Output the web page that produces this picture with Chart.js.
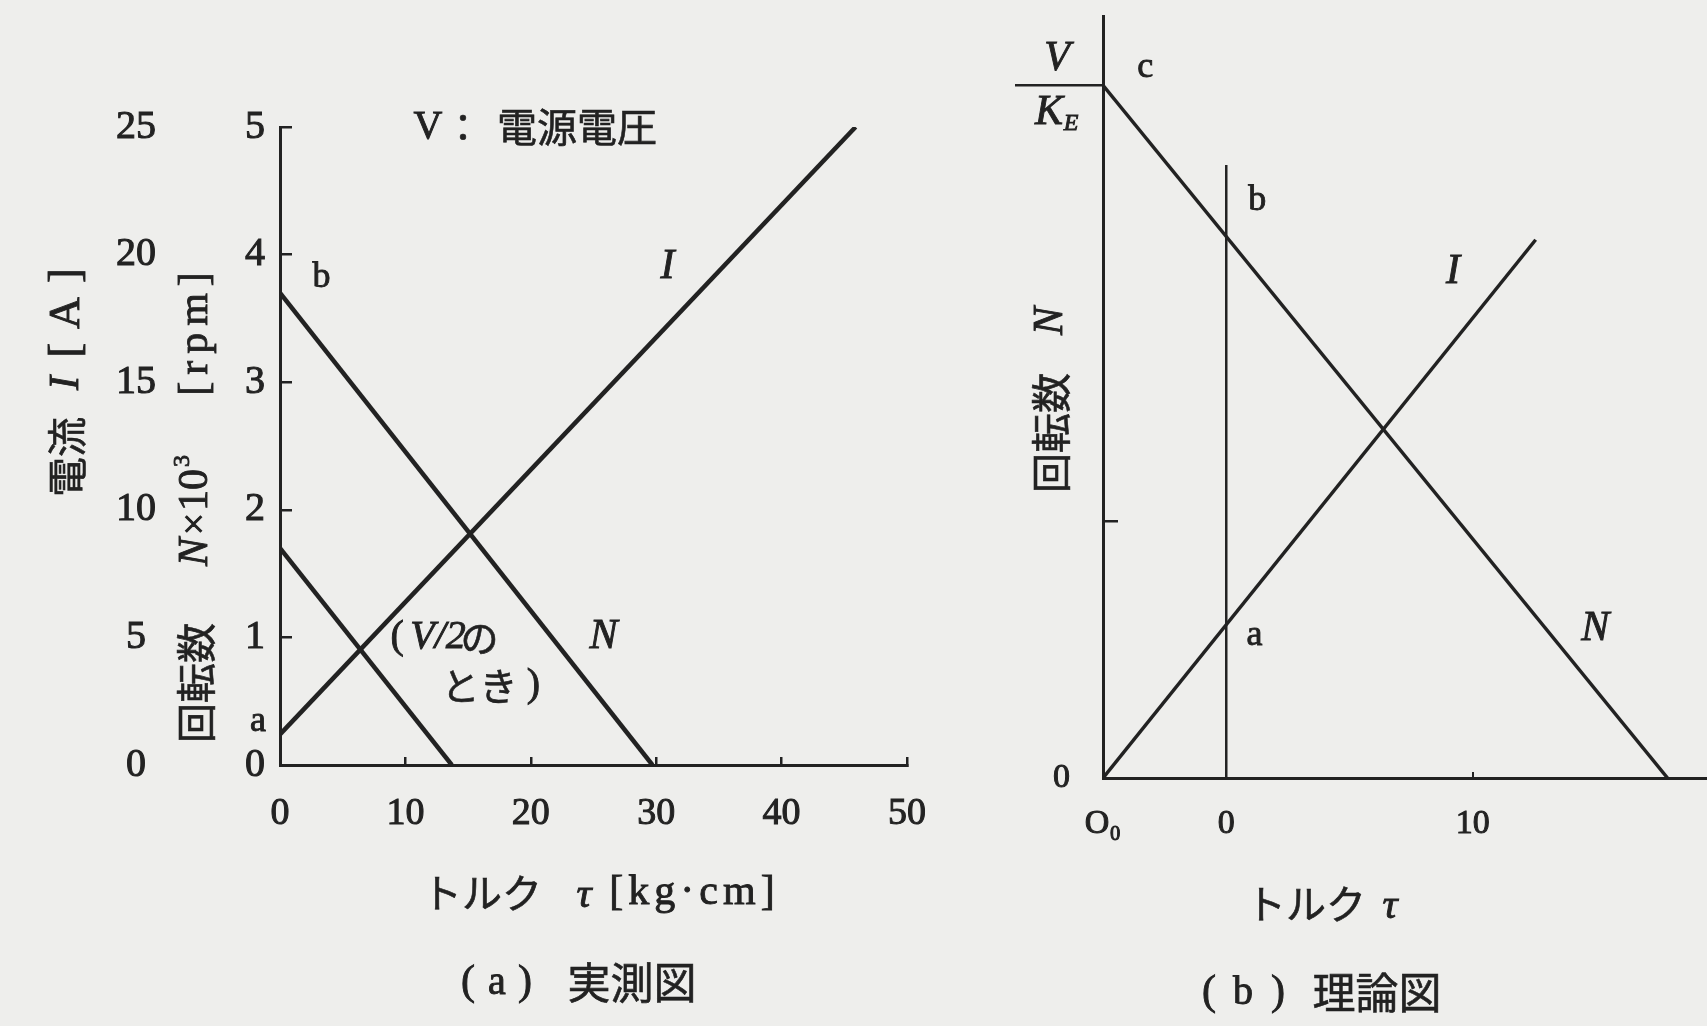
<!DOCTYPE html>
<html lang="ja">
<head>
<meta charset="utf-8">
<title>直流モータの特性</title>
<script src="https://cdn.jsdelivr.net/npm/chart.js@4.4.1/dist/chart.umd.min.js"></script>
<style>
  html, body { margin: 0; padding: 0; background: #eeeeec; overflow: hidden; }
  #wrap { position: relative; width: 1707px; height: 1026px; }
  #chartA { position: absolute; left: 0; top: 0; width: 960px; height: 1026px; }
  #chartB { position: absolute; left: 960px; top: 0; width: 747px; height: 1026px; }
</style>
</head>
<body>
<div id="wrap">
  <canvas id="chartA" width="960" height="1026"></canvas>
  <canvas id="chartB" width="747" height="1026"></canvas>
</div>
<script>
// ---- (a) 実測図 : measured characteristics ----
const torqueTicksA  = [0, 10, 20, 30, 40, 50];      // τ [kg·cm]
const speedTicksA   = [0, 1, 2, 3, 4, 5];            // N ×10³ [rpm]
const currentTicksA = [0, 5, 10, 15, 20, 25];        // I [A]

const speedTorqueA     = [0, 29.7];
const speedA           = [3.7, 0];
const halfSpeedTorqueA = [0, 13.7];
const halfSpeedA       = [1.7, 0];
const currentTorqueA   = [0, 45.9];
const currentA         = [1.2, 25];

// ---- (b) 理論図 : theoretical characteristics ----
const torqueTicksB  = [-5, 0, 10];
const torqueLabelsB = ['O\u2080', '0', '10'];
const speedTicksB   = [0, 3.7, 10];
const speedLabelsB  = ['0', '', ''];

const speedTorqueB    = [-5, 17.9];
const speedB          = [10, 0];
const currentTorqueB  = [-5, 12.55];
const currentB        = [0, 7.77];
const noLoadTorqueB   = [0, 0];
const noLoadB         = [0, 8.85];

const INK = '#222222';
const SERIF = '"Liberation Serif", "DejaVu Serif", serif';
const CJK = '"Noto Sans CJK JP", sans-serif';

const pts = (xs, ys) => xs.map((x, i) => ({ x, y: ys[i] }));
const fixedTicks = (values) => (scale) => { scale.ticks = values.map(v => ({ value: v })); };

// centred text; optional rotation and extra spacing between characters
function put(ctx, text, x, y, font, opts = {}) {
  ctx.save();
  ctx.translate(x, y);
  if (opts.rot) ctx.rotate(opts.rot);
  ctx.font = font;
  ctx.fillStyle = INK;
  ctx.strokeStyle = INK;
  ctx.lineWidth = opts.stroke == null ? 0.9 : opts.stroke;
  ctx.textBaseline = 'middle';
  ctx.textAlign = 'left';
  const gap = opts.gap || 0;
  const chars = Array.from(text);
  const widths = chars.map(c => ctx.measureText(c).width);
  const total = widths.reduce((a, b) => a + b, 0) + gap * (chars.length - 1);
  let cx = -total / 2;
  chars.forEach((c, i) => {
    ctx.fillText(c, cx, 0);
    if (ctx.lineWidth > 0) ctx.strokeText(c, cx, 0);
    cx += widths[i] + gap;
  });
  ctx.restore();
}
const serif = (s, it) => (it ? 'italic ' : '') + s + 'px ' + SERIF;
const cjk = (s) => s + 'px ' + CJK;
const UP = -Math.PI / 2;
// Japanese text, slightly emboldened
const putJ = (ctx, text, x, y, size, opts = {}) => put(ctx, text, x, y, cjk(size), Object.assign({ stroke: 0.6 }, opts));

const lineStyle = (w) => ({ showLine: true, borderColor: INK, borderWidth: w, pointRadius: 0, fill: false, tension: 0 });
const tickFont = (size) => ({ font: { family: SERIF, size }, color: INK, textStrokeColor: INK, textStrokeWidth: 1, autoSkip: false });
const noScalePadding = (s) => { s.paddingTop = 0; s.paddingBottom = 0; s.paddingLeft = 0; s.paddingRight = 0; };

// ---------- chart (a) ----------
const annotateA = {
  id: 'annotateA',
  afterDraw(chart) {
    const { ctx } = chart;
    const x = chart.scales.x, y = chart.scales.yN;
    const at = (tx, ty) => [x.getPixelForValue(tx), y.getPixelForValue(ty)];

    // point and curve labels
    let p = at(3.3, 3.82);  put(ctx, 'b', p[0], p[1], serif(36));
    p = at(-1.75, 0.34);    put(ctx, 'a', p[0], p[1], serif(36));
    p = at(30.9, 3.9);      put(ctx, 'I', p[0], p[1], serif(42, true));
    p = at(25.8, 1.0);      put(ctx, 'N', p[0], p[1], serif(42, true));

    // (V/2のとき)
    p = at(9.35, 1.0);      put(ctx, '(', p[0], p[1], serif(40));
    p = at(12.6, 1.0);      put(ctx, 'V/2', p[0], p[1], serif(40, true));
    p = at(15.9, 1.0);      putJ(ctx, 'の', p[0], p[1], 38);
    p = at(15.9, 0.62);     putJ(ctx, 'とき', p[0], p[1], 38);
    p = at(20.2, 0.62);     put(ctx, ')', p[0], p[1], serif(40));

    // V：電源電圧
    put(ctx, 'V', 428, 127, serif(40));
    putJ(ctx, '：', 463, 127, 38);
    putJ(ctx, '電源電圧', 577, 127, 40);

    // axis titles
    putJ(ctx, '電流', 67, 457, 40, { rot: UP });
    put(ctx, 'I', 67, 383, serif(42, true), { rot: UP });
    put(ctx, '[A]', 67, 313, serif(44), { rot: UP, gap: 14 });

    putJ(ctx, '回転数', 196, 683, 40, { rot: UP });
    put(ctx, 'N', 196, 552, serif(42, true), { rot: UP });
    put(ctx, '\u00d7', 196, 524, serif(40), { rot: UP });
    put(ctx, '10', 196, 490, serif(42), { rot: UP });
    put(ctx, '3', 183, 461, serif(24), { rot: UP });
    put(ctx, '[rpm]', 196, 334, serif(42), { rot: UP, gap: 7 });

    putJ(ctx, 'トルク', 482, 893, 40);
    put(ctx, 'τ', 584, 896, serif(42, true));
    put(ctx, '[kg·cm]', 692, 893, serif(42), { gap: 5 });

    put(ctx, '(', 468, 983, serif(42));
    put(ctx, 'a', 497, 983, serif(40));
    put(ctx, ')', 525, 983, serif(42));
    putJ(ctx, '実測図', 632, 983, 43);
  }
};

new Chart(document.getElementById('chartA'), {
  type: 'scatter',
  data: {
    datasets: [
      Object.assign({ label: 'N', data: pts(speedTorqueA, speedA), yAxisID: 'yN' }, lineStyle(4.5)),
      Object.assign({ label: 'N (V/2)', data: pts(halfSpeedTorqueA, halfSpeedA), yAxisID: 'yN' }, lineStyle(4.5)),
      Object.assign({ label: 'I', data: pts(currentTorqueA, currentA), yAxisID: 'yI' }, lineStyle(4.5))
    ]
  },
  options: {
    responsive: false,
    animation: false,
    devicePixelRatio: 1,
    layout: { padding: { left: 0, top: 127, right: 53, bottom: 161 } },
    plugins: { legend: { display: false }, tooltip: { enabled: false } },
    scales: {
      x: {
        type: 'linear', min: 0, max: 50,
        afterBuildTicks: fixedTicks(torqueTicksA),
        grid: { drawOnChartArea: false, drawTicks: true, tickLength: -8, color: INK, lineWidth: 2.5 },
        border: { display: true, color: INK, width: 3 },
        ticks: Object.assign(tickFont(38), { padding: 34, maxRotation: 0 }),
        afterFit: (s) => { s.height = 100; noScalePadding(s); }
      },
      yN: {
        type: 'linear', position: 'left', weight: 0, min: 0, max: 5,
        afterBuildTicks: fixedTicks(speedTicksA),
        grid: { drawOnChartArea: false, drawTicks: true, tickLength: -12, color: INK, lineWidth: 2.5 },
        border: { display: true, color: INK, width: 3 },
        ticks: Object.assign(tickFont(40), { padding: 27 }),
        afterFit: (s) => { s.width = 110; noScalePadding(s); }
      },
      yI: {
        type: 'linear', position: 'left', weight: 1, min: 0, max: 25,
        afterBuildTicks: fixedTicks(currentTicksA),
        grid: { display: false, drawTicks: false },
        border: { display: false },
        ticks: Object.assign(tickFont(40), { padding: 14, crossAlign: 'center' }),
        afterFit: (s) => { s.width = 170; noScalePadding(s); }
      }
    }
  },
  plugins: [annotateA]
});

// ---------- chart (b) ----------
const annotateB = {
  id: 'annotateB',
  afterDraw(chart) {
    const { ctx } = chart;
    const x = chart.scales.x, y = chart.scales.y;
    const at = (tx, ty) => [x.getPixelForValue(tx), y.getPixelForValue(ty)];

    let p = at(-3.29, 10.26); put(ctx, 'c', p[0], p[1], serif(36));
    p = at(1.26, 8.33);       put(ctx, 'b', p[0], p[1], serif(36));
    p = at(1.14, 2.06);       put(ctx, 'a', p[0], p[1], serif(36));
    p = at(9.2, 7.3);         put(ctx, 'I', p[0], p[1], serif(42, true));
    p = at(14.97, 2.15);      put(ctx, 'N', p[0], p[1], serif(42, true));

    // V / K_E at the top of the speed axis
    const yTop = y.getPixelForValue(speedB[0]);
    const xAxis = x.getPixelForValue(speedTorqueB[0]);
    ctx.save();
    ctx.strokeStyle = INK; ctx.lineWidth = 2.5;
    ctx.beginPath(); ctx.moveTo(xAxis - 88, yTop); ctx.lineTo(xAxis, yTop); ctx.stroke();
    ctx.restore();
    put(ctx, 'V', xAxis - 46, yTop - 26, serif(42, true));
    put(ctx, 'K', xAxis - 54, yTop + 28, serif(42, true));
    put(ctx, 'E', xAxis - 32, yTop + 38, serif(24, true));

    // axis titles
    putJ(ctx, '回転数', 91, 433, 40, { rot: UP });
    put(ctx, 'N', 91, 321, serif(42, true), { rot: UP });

    putJ(ctx, 'トルク', 346, 904, 40);
    put(ctx, 'τ', 430, 907, serif(42, true));

    put(ctx, '(', 249, 993, serif(42));
    put(ctx, 'b', 283, 993, serif(40));
    put(ctx, ')', 318, 993, serif(42));
    putJ(ctx, '理論図', 417, 993, 43);
  }
};

new Chart(document.getElementById('chartB'), {
  type: 'scatter',
  data: {
    datasets: [
      Object.assign({ label: 'N', data: pts(speedTorqueB, speedB) }, lineStyle(3.5)),
      Object.assign({ label: 'I', data: pts(currentTorqueB, currentB) }, lineStyle(3.5)),
      Object.assign({ label: 'τ = 0', data: pts(noLoadTorqueB, noLoadB) }, lineStyle(2.5))
    ]
  },
  options: {
    responsive: false,
    animation: false,
    devicePixelRatio: 1,
    layout: { padding: { left: 0, top: 16, right: 0, bottom: 148 } },
    plugins: { legend: { display: false }, tooltip: { enabled: false } },
    scales: {
      x: {
        type: 'linear', min: -5, max: 19.5,
        afterBuildTicks: fixedTicks(torqueTicksB),
        grid: { drawOnChartArea: false, drawTicks: true, tickLength: -6, color: INK, lineWidth: 2 },
        border: { display: true, color: INK, width: 3 },
        ticks: Object.assign(tickFont(34), {
          padding: 32, maxRotation: 0,
          callback: (v) => torqueLabelsB[torqueTicksB.indexOf(v)]
        }),
        afterFit: (s) => { s.height = 100; noScalePadding(s); }
      },
      y: {
        type: 'linear', position: 'left', min: 0, max: 11,
        afterBuildTicks: fixedTicks(speedTicksB),
        grid: {
          drawOnChartArea: false, drawTicks: true, tickLength: -15, lineWidth: 2.5,
          tickColor: (c) => (c.tick && c.tick.value === speedTicksB[1]) ? INK : 'rgba(0,0,0,0)'
        },
        border: { display: true, color: INK, width: 3 },
        ticks: Object.assign(tickFont(34), {
          padding: 48,
          callback: (v) => speedLabelsB[speedTicksB.indexOf(v)]
        }),
        afterFit: (s) => { s.width = 143; noScalePadding(s); }
      }
    }
  },
  plugins: [annotateB]
});
</script>
</body>
</html>
